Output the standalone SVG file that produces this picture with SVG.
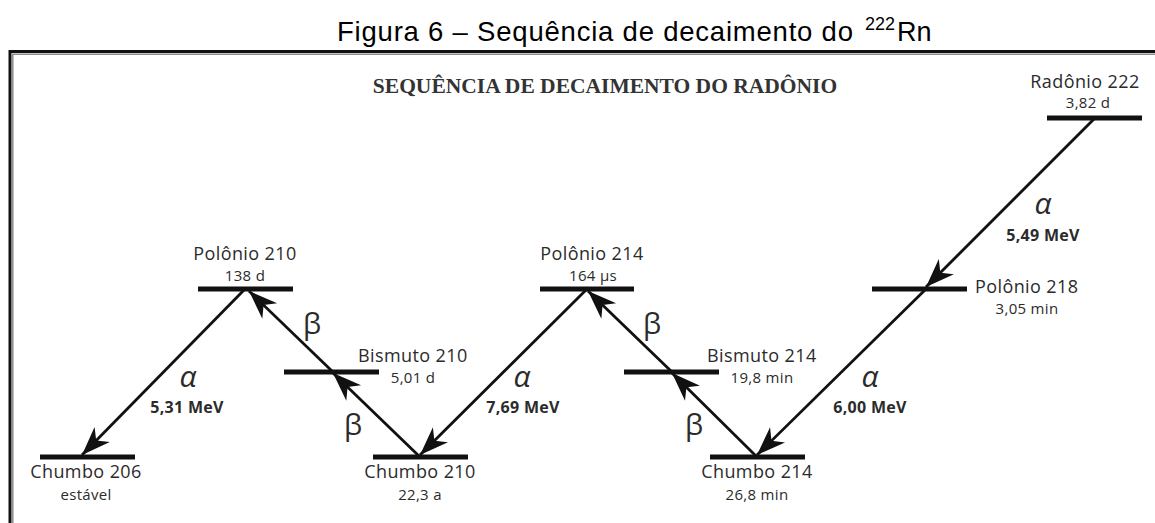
<svg xmlns="http://www.w3.org/2000/svg" width="1155" height="523" viewBox="0 0 1155 523">
<style>
.bar{stroke:#111;stroke-width:5;fill:none}
.arr{stroke:#111;stroke-width:2.8;fill:none}
.lbl{font-family:"Open Sans","Noto Sans",sans-serif;font-size:18px;letter-spacing:0.4px;fill:#2b2b2b}
.sub{font-family:"Open Sans","Noto Sans",sans-serif;font-size:15px;letter-spacing:0.3px;fill:#2b2b2b}
.mev{font-family:"Open Sans","Noto Sans",sans-serif;font-size:16px;font-weight:bold;letter-spacing:0.3px;fill:#2b2b2b}
.alpha{font-family:"Open Sans","Noto Sans",sans-serif;font-size:30px;font-style:italic;fill:#2b2b2b}
.beta{font-family:"Open Sans","Noto Sans",sans-serif;font-size:29px;fill:#2b2b2b}
.c{text-anchor:middle}
</style>
<defs>
<marker id="ah" markerUnits="userSpaceOnUse" markerWidth="32" markerHeight="24" viewBox="-28 -11 30 22" refX="0" refY="0" orient="auto">
<path d="M0,0 L-27,-10 L-19,0 L-27,10 Z" fill="#111"/>
</marker>
</defs>
<rect width="1155" height="523" fill="#fff"/>
<g id="caption" font-family="Liberation Sans, Arial, sans-serif" fill="#000">
<text x="337" y="41" font-size="27.5" textLength="516" lengthAdjust="spacing">Figura 6 – Sequência de decaimento do</text>
<text x="865" y="30" font-size="18">222</text>
<text x="897" y="41" font-size="27">Rn</text>
</g>
<g id="frame">
<path d="M10,523 V51.5 H1155" stroke="#111" stroke-width="3" fill="none"/>
<path d="M12.8,523 V54.3 H1155" stroke="#8a8a8a" stroke-width="1.5" fill="none"/>
</g>
<text x="605" y="93" text-anchor="middle" font-family="Liberation Serif, 'Times New Roman', serif" font-size="21.5" font-weight="bold" fill="#333">SEQUÊNCIA DE DECAIMENTO DO RADÔNIO</text>
<g id="connectors">
<line class="arr" x1="1094" y1="119" x2="926" y2="287" marker-end="url(#ah)"/>
<line class="arr" x1="926" y1="289" x2="757" y2="455" marker-end="url(#ah)"/>
<line class="arr" x1="757" y1="457" x2="672" y2="373" marker-end="url(#ah)"/>
<line class="arr" x1="672" y1="372" x2="588" y2="291" marker-end="url(#ah)"/>
<line class="arr" x1="587" y1="289" x2="420" y2="455" marker-end="url(#ah)"/>
<line class="arr" x1="420" y1="457" x2="333" y2="373" marker-end="url(#ah)"/>
<line class="arr" x1="333" y1="372" x2="249" y2="291" marker-end="url(#ah)"/>
<line class="arr" x1="245" y1="289" x2="82" y2="455" marker-end="url(#ah)"/>
<text class="alpha c" x="1043" y="214">α</text>
<text class="mev c" x="1043" y="241">5,49 MeV</text>
<text class="alpha c" x="870" y="387">α</text>
<text class="mev c" x="870" y="413">6,00 MeV</text>
<text class="alpha c" x="522" y="387">α</text>
<text class="mev c" x="523" y="413">7,69 MeV</text>
<text class="alpha c" x="188" y="387">α</text>
<text class="mev c" x="187" y="413">5,31 MeV</text>
<text class="beta c" x="652" y="334">β</text>
<text class="beta c" x="694" y="435">β</text>
<text class="beta c" x="312" y="334">β</text>
<text class="beta c" x="353" y="435">β</text>
</g>
<g id="rn222">
<line class="bar" x1="1047" y1="118" x2="1142" y2="118"/>
<text class="lbl c" x="1085" y="88">Radônio 222</text>
<text class="sub c" x="1088" y="108">3,82 d</text>
</g>
<g id="po218">
<line class="bar" x1="872" y1="289" x2="967" y2="289"/>
<text class="lbl" x="975" y="293">Polônio 218</text>
<text class="sub c" x="1027" y="314">3,05 min</text>
</g>
<g id="pb214">
<line class="bar" x1="710" y1="457" x2="805" y2="457"/>
<text class="lbl c" x="757" y="478">Chumbo 214</text>
<text class="sub c" x="757" y="500">26,8 min</text>
</g>
<g id="bi214">
<line class="bar" x1="624" y1="372" x2="719" y2="372"/>
<text class="lbl" x="707" y="362">Bismuto 214</text>
<text class="sub c" x="762" y="383">19,8 min</text>
</g>
<g id="po214">
<line class="bar" x1="540" y1="289" x2="634" y2="289"/>
<text class="lbl c" x="592" y="260">Polônio 214</text>
<text class="sub c" x="593" y="281">164 µs</text>
</g>
<g id="pb210">
<line class="bar" x1="373" y1="457" x2="468" y2="457"/>
<text class="lbl c" x="420" y="478">Chumbo 210</text>
<text class="sub c" x="420" y="500">22,3 a</text>
</g>
<g id="bi210">
<line class="bar" x1="284" y1="372" x2="379" y2="372"/>
<text class="lbl" x="358" y="362">Bismuto 210</text>
<text class="sub c" x="413" y="383">5,01 d</text>
</g>
<g id="po210">
<line class="bar" x1="198" y1="289" x2="293" y2="289"/>
<text class="lbl c" x="245" y="260">Polônio 210</text>
<text class="sub c" x="245" y="281">138 d</text>
</g>
<g id="pb206">
<line class="bar" x1="40" y1="457" x2="135" y2="457"/>
<text class="lbl c" x="86" y="478">Chumbo 206</text>
<text class="sub c" x="86" y="500">estável</text>
</g>
</svg>
